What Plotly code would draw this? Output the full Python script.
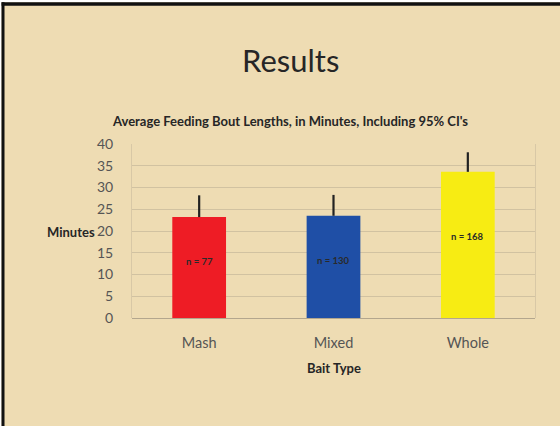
import plotly.graph_objects as go

categories = ["Mash", "Mixed", "Whole"]
means = [23.2, 23.5, 33.6]
ci_plus = [5.0, 4.8, 4.5]
n_labels = ["n = 77", "n = 130", "n = 168"]
colors = ["#EE1C25", "#1F4FA6", "#F7EC13"]
y_ticks = [0, 5, 10, 15, 20, 25, 30, 35, 40]

FONT = "Lato"
W, H = 560, 426
L, R, T, B = 132, 25, 144, 108
PW, PH = W - L - R, H - T - B


def px(x):
    return (x - L) / PW


def py(y):
    return (H - B - y) / PH


fig = go.Figure()
fig.add_trace(go.Bar(
    x=categories, y=means,
    marker=dict(color=colors, line=dict(width=0)),
    width=0.4,
    error_y=dict(type="data", symmetric=False, array=ci_plus,
                 arrayminus=[0] * len(ci_plus),
                 color="#222222", thickness=2.2, width=0),
    hoverinfo="skip",
))

for c, m, t in zip(categories, means, n_labels):
    fig.add_annotation(x=c, y=m * 0.56, text=f"<b>{t}</b>", showarrow=False,
                       xanchor="center",
                       font=dict(family=FONT, size=9.5, color="#2a2a2a"))

fig.update_layout(
    width=W, height=H,
    margin=dict(l=L, r=R, t=T, b=B),
    paper_bgcolor="#EEDCB3",
    plot_bgcolor="rgba(0,0,0,0)",
    showlegend=False,
    xaxis=dict(
        tickfont=dict(family=FONT, size=14.5, color="#555555"),
        showgrid=False, showline=False, ticks="",
        ticklabelstandoff=14,
    ),
    yaxis=dict(
        range=[0, 40], tickvals=y_ticks,
        tickfont=dict(family=FONT, size=14, color="#555555"),
        showgrid=True, gridcolor="rgba(165,155,135,0.4)", gridwidth=1,
        zeroline=True, zerolinecolor="rgba(140,130,115,0.6)", zerolinewidth=1,
        showline=True, linecolor="rgba(165,155,135,0.3)", linewidth=1,
        ticks="", ticklabelstandoff=15, mirror=True,
    ),
)

# white outer strips and dark slide frame (top/left)
fig.add_shape(type="rect", xref="paper", yref="paper",
              x0=px(0), x1=px(W), y0=py(0), y1=py(2.2),
              line=dict(width=0), fillcolor="white")
fig.add_shape(type="rect", xref="paper", yref="paper",
              x0=px(0), x1=px(1.6), y0=py(H), y1=py(0),
              line=dict(width=0), fillcolor="white")
fig.add_shape(type="line", xref="paper", yref="paper",
              x0=px(1.6), x1=px(W), y0=py(4), y1=py(4),
              line=dict(color="#111111", width=3.5))
fig.add_shape(type="line", xref="paper", yref="paper",
              x0=px(3), x1=px(3), y0=py(H), y1=py(2.2),
              line=dict(color="#111111", width=3))

fig.add_annotation(xref="paper", yref="paper", x=px(290), y=py(60),
                   xanchor="center", yanchor="middle",
                   text="Results", showarrow=False,
                   font=dict(family=FONT, size=31, color="#262626"))
fig.add_annotation(xref="paper", yref="paper", x=px(290), y=py(121),
                   xanchor="center", yanchor="middle",
                   text="<b>Average Feeding Bout Lengths, in Minutes, Including 95% CI's</b>",
                   showarrow=False, font=dict(family=FONT, size=13, color="#262626"))
fig.add_annotation(xref="paper", yref="paper", x=px(71), y=py(232),
                   xanchor="center", yanchor="middle",
                   text="<b>Minutes</b>", showarrow=False,
                   font=dict(family=FONT, size=13, color="#262626"))
fig.add_annotation(xref="paper", yref="paper", x=px(334), y=py(368),
                   xanchor="center", yanchor="middle",
                   text="<b>Bait Type</b>", showarrow=False,
                   font=dict(family=FONT, size=13, color="#262626"))

fig.write_html("out.html")
